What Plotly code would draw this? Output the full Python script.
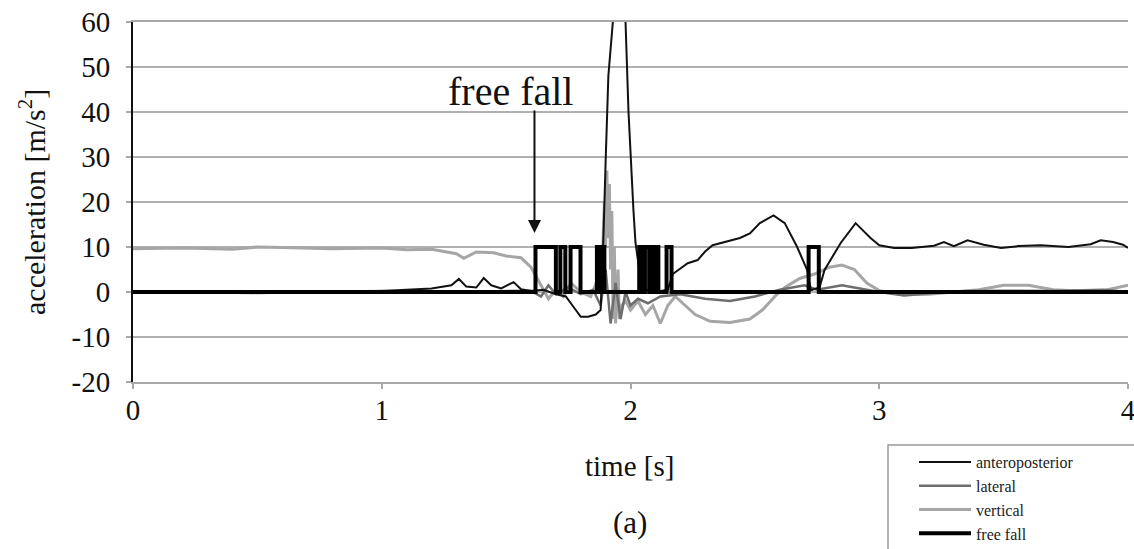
import plotly.graph_objects as go

# ---- data ----
ap_t = [0.0, 0.5, 1.0, 1.2, 1.28, 1.31, 1.34, 1.38, 1.41, 1.44, 1.48, 1.53, 1.56, 1.6, 1.65, 1.7,
        1.74, 1.78, 1.8, 1.83, 1.86, 1.88, 1.89, 1.9, 1.911, 1.932, 1.955, 1.98, 1.992, 2.012, 2.02,
        2.04, 2.06, 2.1, 2.15, 2.17, 2.2, 2.23, 2.27, 2.3, 2.33, 2.36, 2.4, 2.44, 2.48, 2.52, 2.575,
        2.62, 2.67, 2.71, 2.725, 2.76, 2.78, 2.845, 2.905, 2.965, 3.0, 3.06, 3.13, 3.22, 3.26, 3.3,
        3.355, 3.42, 3.49, 3.56, 3.65, 3.76, 3.85, 3.89, 3.94, 3.98, 4.0]
ap_v = [0.0, 0.1, 0.2, 0.8, 1.5, 2.9, 1.2, 1.0, 3.1, 1.5, 0.8, 2.2, 0.6, 0.2, 0.5, -0.5,
        -1.0, -4.0, -5.5, -5.5, -5.0, -4.0, 10.0, 29.0, 48.0, 62.0, 68.0, 60.0, 40.0, 18.0, 11.0,
        3.0, 0.5, 0.0, 0.5, 4.0, 5.3, 6.4, 7.1, 9.0, 10.4, 10.8, 11.5, 12.0, 13.0, 15.3, 17.0,
        15.3, 10.0, 4.9, 0.4, 1.0, 4.9, 10.9, 15.3, 12.0, 10.4, 9.8, 9.8, 10.3, 11.1, 10.2,
        11.5, 10.5, 9.8, 10.2, 10.4, 10.0, 10.6, 11.5, 11.1, 10.5, 9.8]

lat_t = [0.0, 0.5, 1.0, 1.3, 1.6, 1.64, 1.67, 1.7, 1.75, 1.8, 1.85, 1.88, 1.9, 1.92, 1.94, 1.96,
         1.98, 2.0, 2.03, 2.07, 2.12, 2.2, 2.3, 2.4, 2.5, 2.6, 2.7, 2.75, 2.85, 2.9, 3.0, 3.1,
         3.2, 3.35, 3.5, 3.7, 3.9, 4.0]
lat_v = [0.1, -0.2, 0.2, 0.0, 0.3, -1.0, 1.5, -0.5, 1.0, -0.5, 0.5, -3.0, 5.0, -7.0, 2.0, -6.0,
         0.0, -3.0, -1.5, -2.5, -1.0, -0.5, -1.5, -2.0, -1.0, 0.5, 1.5, 0.5, 1.5, 1.0, 0.0, -0.8,
         -0.3, 0.2, 0.3, 0.2, 0.5, 0.0]

vert_t = [0.0, 0.2, 0.4, 0.5, 0.6, 0.8, 1.0, 1.1, 1.2, 1.3, 1.33, 1.38, 1.45, 1.5, 1.56, 1.6,
          1.64, 1.67, 1.7, 1.73, 1.76, 1.8, 1.84, 1.87, 1.885, 1.895, 1.9, 1.905, 1.91, 1.915,
          1.92, 1.925, 1.93, 1.935, 1.94, 1.95, 1.955, 1.965, 1.98, 2.0, 2.03, 2.06, 2.09, 2.12,
          2.15, 2.18, 2.22, 2.26, 2.32, 2.4, 2.48, 2.53, 2.58, 2.62, 2.68, 2.74, 2.8, 2.85, 2.9,
          2.95, 3.0, 3.1, 3.2, 3.3, 3.4, 3.5, 3.6, 3.7, 3.8, 3.9, 4.0]
vert_v = [9.6, 9.8, 9.5, 10.0, 9.9, 9.6, 9.8, 9.4, 9.5, 8.5, 7.5, 8.9, 8.7, 8.0, 7.6, 5.5,
          1.5, -1.5, 0.5, -1.0, 2.0, 0.0, -1.0, 3.0, 4.0, 20.0, 10.0, 27.0, 12.0, 24.0,
          5.0, 18.0, -6.0, 10.0, -7.0, 5.0, -6.0, -3.0, -2.0, -4.0, -2.0, -5.0, -3.0, -7.0,
          -3.0, -1.0, -3.0, -5.0, -6.5, -6.8, -6.0, -4.0, -1.0, 1.0, 3.0, 4.0, 5.5, 6.0, 5.0,
          2.0, 0.3, -0.6, -0.5, 0.0, 0.5, 1.5, 1.5, 0.5, 0.2, 0.3, 1.5]

ff_t = [0.0, 1.618, 1.700, 1.718, 1.738, 1.759, 1.799, 1.865, 1.875, 1.882, 1.895, 2.035, 2.050,
        2.058, 2.075, 2.082, 2.098, 2.104, 2.112, 2.145, 2.165, 2.716, 2.757, 4.0]
ff_v = [0, 10, 0, 10, 0, 10, 0, 10, 0, 10, 0, 10, 0, 10, 0, 10, 0, 10, 0, 10, 0, 10, 0, 0]

x_ticks = [0, 1, 2, 3, 4]
y_ticks = [-20, -10, 0, 10, 20, 30, 40, 50, 60]

SERIF = "Liberation Serif, Times New Roman, serif"

fig = go.Figure()
fig.add_trace(go.Scatter(x=vert_t, y=vert_v, mode="lines", name="vertical", legendrank=3,
                         line=dict(color="#a6a6a6", width=3)))
fig.add_trace(go.Scatter(x=lat_t, y=lat_v, mode="lines", name="lateral", legendrank=2,
                         line=dict(color="#6e6e6e", width=2.5)))
fig.add_trace(go.Scatter(x=ap_t, y=ap_v, mode="lines", name="anteroposterior", legendrank=1,
                         line=dict(color="#111111", width=2)))
fig.add_trace(go.Scatter(x=ff_t, y=ff_v, mode="lines", name="free fall", legendrank=4,
                         line=dict(color="#000000", width=4, shape="hv")))

fig.update_layout(
    width=1134, height=549,
    margin=dict(l=133, r=6, t=22, b=167, autoexpand=False),
    paper_bgcolor="white", plot_bgcolor="white",
    font=dict(family=SERIF, color="#111"),
    showlegend=True,
    legend=dict(x=(914 - 133) / 995, y=(382 - 445) / 360, xanchor="left", yanchor="top",
                borderwidth=0, bgcolor="rgba(0,0,0,0)",
                font=dict(family=SERIF, size=16, color="#222"),
                tracegroupgap=0, itemwidth=52),
    xaxis=dict(range=[0, 4], tickvals=x_ticks, ticktext=[str(v) for v in x_ticks],
               showgrid=False, zeroline=False, showline=True, linecolor="#a8a8a8", linewidth=2,
               mirror=True, ticks="outside", ticklen=5, tickcolor="#a8a8a8", tickwidth=1.5,
               ticklabelstandoff=-4, ticklabeloverflow="allow",
               tickfont=dict(family=SERIF, size=29, color="#111")),
    yaxis=dict(range=[-20, 60], tickvals=y_ticks, ticktext=[str(v) for v in y_ticks],
               showgrid=True, gridcolor="#b0b0b0", gridwidth=2, zeroline=False,
               showline=True, linecolor="#111", linewidth=2,
               ticks="outside", ticklen=5, tickcolor="#a8a8a8", tickwidth=1.5,
               ticklabelstandoff=10,
               tickfont=dict(family=SERIF, size=29, color="#111")),
    shapes=[
        dict(type="rect", xref="paper", yref="paper",
             x0=(888 - 133) / 995, x1=1.05, y0=(382 - 445) / 360, y1=-0.7,
             line=dict(color="#9a9a9a", width=1.5), fillcolor="rgba(0,0,0,0)", layer="above"),
    ],
    annotations=[
        dict(text="time [s]", xref="paper", yref="paper", x=(629 - 133) / 995, y=-0.233,
             xanchor="center", yanchor="middle", showarrow=False,
             font=dict(family=SERIF, size=29, color="#111")),
        dict(text="acceleration [m/s<sup>2</sup>]", xref="paper", yref="paper", x=-101 / 995, y=0.5,
             xanchor="center", yanchor="middle", textangle=-90, showarrow=False,
             font=dict(family=SERIF, size=30, color="#111")),
        dict(text="(a)", xref="paper", yref="paper", x=(630 - 133) / 995, y=-0.389,
             xanchor="center", yanchor="middle", showarrow=False,
             font=dict(family=SERIF, size=31, color="#111")),
        dict(text="free fall", xref="paper", yref="paper", x=(510 - 133) / 995, y=(382 - 91) / 360,
             xanchor="center", yanchor="middle", showarrow=False,
             font=dict(family=SERIF, size=40, color="#111")),
        dict(text="", x=1.614, y=13.1, xref="x", yref="y", showarrow=True,
             ax=0, ay=-124, arrowhead=2, arrowsize=1.3, arrowwidth=2, arrowcolor="#111"),
    ],
)

fig.write_html("out.html", config={"displayModeBar": False},
               post_script="document.body.style.margin='0px';")
